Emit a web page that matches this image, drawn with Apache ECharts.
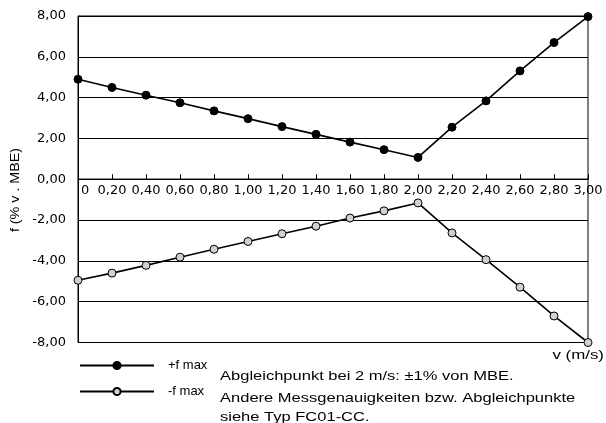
<!DOCTYPE html>
<html>
<head>
<meta charset="utf-8">
<script src="https://cdn.jsdelivr.net/npm/echarts@6/dist/echarts.min.js"></script>
<style>html,body{margin:0;padding:0;background:#fff}#c{width:606px;height:423px}</style>
</head>
<body>
<div id="c"></div>
<script>
var vValues = [0, 0.2, 0.4, 0.6, 0.8, 1.0, 1.2, 1.4, 1.6, 1.8, 2.0, 2.2, 2.4, 2.6, 2.8, 3.0];
var fMaxPlus = [4.9, 4.5, 4.12, 3.75, 3.35, 2.97, 2.58, 2.2, 1.82, 1.45, 1.07, 2.55, 3.84, 5.31, 6.7, 7.97];
var fMaxMinus = [-4.95, -4.6, -4.22, -3.82, -3.43, -3.05, -2.67, -2.3, -1.9, -1.55, -1.16, -2.63, -3.94, -5.29, -6.7, -8.0];
var seriesNames = ['+f max', '-f max'];
var yAxisTitle = 'f (% v . MBE)';
var xAxisTitle = 'v (m/s)';
var noteLines = ['Abgleichpunkt bei 2 m/s: \u00b11% von MBE.', 'Andere Messgenauigkeiten bzw. Abgleichpunkte', 'siehe Typ FC01-CC.'];

var FONT = 'Liberation Sans, Arial, Helvetica, sans-serif';
var WIDEFONT = 'DejaVu Sans, Liberation Sans, sans-serif';
function pairs(ys) { return vValues.map(function (x, i) { return [x, ys[i]]; }); }
function fmt(v) { return v.toFixed(2).replace('.', ','); }

var H = 163.25;
var gridBase = { left: 78, right: 18, height: H, containLabel: false, show: true, borderColor: '#000', borderWidth: 1, backgroundColor: 'transparent' };
var yBase = {
  type: 'value', interval: 2,
  axisLine: { show: true, onZero: false, lineStyle: { color: '#000', width: 1 } },
  axisTick: { show: false },
  axisLabel: { color: '#000', fontSize: 13, fontFamily: WIDEFONT, margin: 12, formatter: fmt },
  splitLine: { show: true, lineStyle: { color: '#000', width: 1 } }
};
function note(text, y) {
  return { type: 'text', x: 220, y: y, scaleX: 1.27,
    style: { text: text, fill: '#000', font: '13px ' + FONT, align: 'left', verticalAlign: 'middle' } };
}

var chart = echarts.init(document.getElementById('c'));
chart.setOption({
  animation: false,
  backgroundColor: '#fff',
  textStyle: { fontFamily: FONT },
  grid: [
    Object.assign({}, gridBase, { top: 16 }),
    Object.assign({}, gridBase, { top: 16 + H })
  ],
  xAxis: [{
    gridIndex: 0, type: 'value', min: 0, max: 3, interval: 0.2, position: 'bottom',
    axisLine: { show: true, onZero: false, lineStyle: { color: '#000', width: 1 } },
    axisTick: { show: true, inside: true, length: 5, lineStyle: { color: '#000' } },
    axisLabel: {
      color: '#000', fontSize: 13, fontFamily: WIDEFONT, margin: 5, alignMinLabel: 'left',
      formatter: function (v) { return v === 0 ? '{z|0}' : fmt(v); },
      rich: { z: { fontSize: 13, fontFamily: WIDEFONT, color: '#000', padding: [0, 0, 0, 3] } }
    },
    splitLine: { show: false }
  }, {
    gridIndex: 1, type: 'value', min: 0, max: 3, interval: 0.2,
    axisLine: { show: false }, axisTick: { show: false }, axisLabel: { show: false }, splitLine: { show: false }
  }],
  yAxis: [
    Object.assign({}, yBase, { gridIndex: 0, min: 0, max: 8 }),
    Object.assign({}, yBase, { gridIndex: 1, min: -8, max: 0, axisLabel: Object.assign({}, yBase.axisLabel, { showMaxLabel: false }) })
  ],
  legend: {
    orient: 'vertical', left: 79, top: 359, padding: 0, itemWidth: 74, itemHeight: 9, itemGap: 13,
    textStyle: { color: '#000', fontSize: 13, fontFamily: FONT, padding: [0, 0, 0, 9] },
    data: seriesNames
  },
  series: [{
    name: seriesNames[0], type: 'line', xAxisIndex: 0, yAxisIndex: 0, data: pairs(fMaxPlus),
    symbol: 'circle', symbolSize: 8, clip: false, z: 5,
    lineStyle: { color: '#000', width: 1.6 },
    itemStyle: { color: '#000', borderColor: '#000', borderWidth: 1 }
  }, {
    name: seriesNames[1], type: 'line', xAxisIndex: 1, yAxisIndex: 1, data: pairs(fMaxMinus),
    symbol: 'circle', symbolSize: 8, clip: false, z: 5,
    lineStyle: { color: '#000', width: 1.6 },
    itemStyle: { color: '#d0d0d0', borderColor: '#000', borderWidth: 1 }
  }],
  graphic: [{
    type: 'text', x: 15, y: 190, rotation: Math.PI / 2, scaleX: 1.1,
    style: { text: yAxisTitle, fill: '#000', font: '13px ' + FONT, align: 'center', verticalAlign: 'middle' }
  }, {
    type: 'text', x: 604, y: 355, scaleX: 1.3,
    style: { text: xAxisTitle, fill: '#000', font: '13px ' + FONT, align: 'right', verticalAlign: 'middle' }
  },
    note(noteLines[0], 376),
    note(noteLines[1], 398),
    note(noteLines[2], 417)
  ]
});
</script>
</body>
</html>
